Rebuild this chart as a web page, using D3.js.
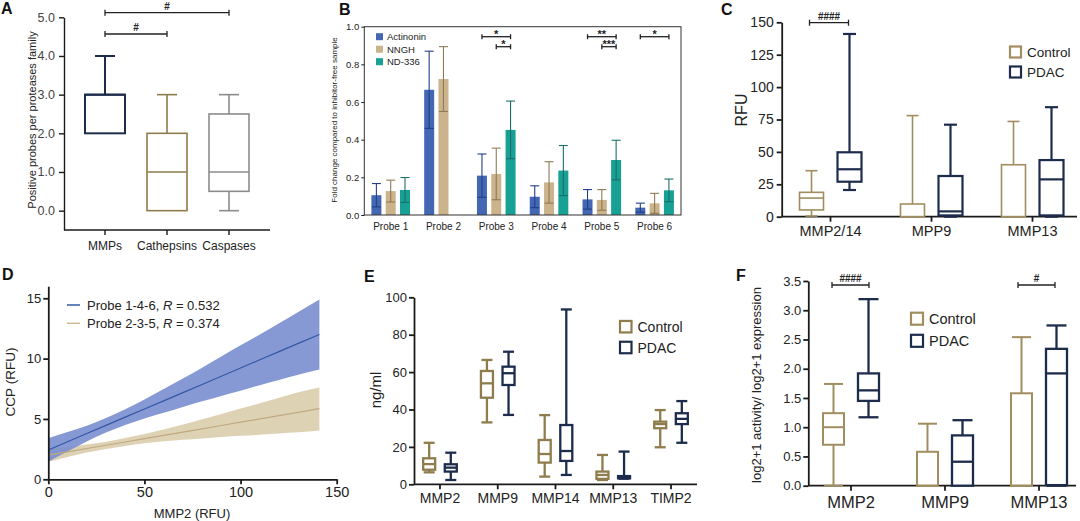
<!DOCTYPE html>
<html><head><meta charset="utf-8">
<script src="https://cdn.jsdelivr.net/npm/d3@7"></script>
<style>
body{margin:0;background:#fff}
svg{display:block;font-family:"Liberation Sans",Arial,sans-serif}
</style></head><body>
<svg id="c" width="1080" height="521"></svg>
<script>
// ---------- DATA ----------
// Panel A: [min, q1, median, q3, max]
const A_cats = ["MMPs", "Cathepsins", "Caspases"];
const A_stats = [[2, 2, 3, 3, 4], [0, 0, 1, 2, 3], [0, 0.5, 1, 2.5, 3]];
const A_yTicks = [0, 1, 2, 3, 4, 5];

// Panel B
const B_probes = ["Probe 1", "Probe 2", "Probe 3", "Probe 4", "Probe 5", "Probe 6"];
const B_series = ["Actinonin", "NNGH", "ND-336"];
const B_actinonin = [0.105, 0.665, 0.209, 0.097, 0.083, 0.039];
const B_actinoninErr = [0.062, 0.205, 0.115, 0.058, 0.052, 0.024];
const B_nngh = [0.127, 0.722, 0.218, 0.173, 0.080, 0.062];
const B_nnghErr = [0.058, 0.172, 0.137, 0.110, 0.055, 0.053];
const B_nd336 = [0.133, null, 0.452, 0.236, 0.292, 0.131];
const B_nd336Err = [0.066, null, 0.153, 0.133, 0.105, 0.060];
const B_yTicks = [0, 0.2, 0.4, 0.6, 0.8, 1.0];

// Panel C: [min, q1, median, q3, max]
const C_cats = ["MMP2/14", "MPP9", "MMP13"];
const C_control = [[0.5, 5.2, 14.4, 18.8, 35.5], [0, 0, 0, 9.8, 78], [0, 0, 0, 40.1, 73.5]];
const C_pdac = [[20.6, 27, 36.6, 49.7, 141], [0, 1, 4.1, 31.4, 71], [0, 1, 28.8, 43.7, 84.5]];
const C_yTicks = [0, 25, 50, 75, 100, 125, 150];

// Panel D: regression fits with confidence bands
const D_x = [0, 10, 20, 30, 40, 50, 60, 70, 80, 90, 100, 110, 120, 130, 141];
const D_blueFit = [2.43, 3.11, 3.79, 4.47, 5.15, 5.83, 6.50, 7.18, 7.86, 8.54, 9.22, 9.90, 10.58, 11.26, 12.0];
const D_blueHi = [3.40, 3.91, 4.44, 5.07, 5.80, 6.62, 7.48, 8.36, 9.25, 10.17, 11.10, 12.0, 12.93, 13.86, 14.9];
const D_blueLo = [1.46, 2.31, 3.14, 3.87, 4.50, 5.04, 5.52, 6.00, 6.47, 6.91, 7.34, 7.80, 8.23, 8.66, 9.1];
const D_tanFit = [2.0, 2.27, 2.55, 2.82, 3.09, 3.37, 3.64, 3.91, 4.18, 4.46, 4.73, 5.0, 5.28, 5.55, 5.85];
const D_tanHi = [2.55, 2.69, 2.88, 3.12, 3.42, 3.76, 4.13, 4.54, 4.97, 5.42, 5.86, 6.30, 6.76, 7.21, 7.6];
const D_tanLo = [1.45, 1.85, 2.22, 2.52, 2.76, 2.98, 3.15, 3.28, 3.39, 3.50, 3.60, 3.70, 3.80, 3.89, 4.05];
const D_xTicks = [0, 50, 100, 150];
const D_yTicks = [0, 5, 10, 15];
const D_legend = [["Probe 1-4-6, ", "0.532"], ["Probe 2-3-5, ", "0.374"]];

// Panel E: [min, q1, median, q3, max]
const E_cats = ["MMP2", "MMP9", "MMP14", "MMP13", "TIMP2"];
const E_control = [[6.4, 7.8, 10.8, 13.9, 22.2], [33.1, 46.3, 54, 60.6, 66.5], [4.1, 11.6, 16.2, 23.7, 37], [2.3, 2.9, 5, 6.8, 15.7], [19.8, 30, 32.2, 33.5, 39.7]];
const E_pdac = [[2.3, 6.8, 8.9, 10.7, 16.9], [37.1, 53.1, 59.4, 62.9, 70.9], [5, 12.5, 17.8, 31.7, 93.5], [3, 3.2, 3.8, 4.4, 17.5], [22.2, 32.2, 35, 38, 44.5]];
const E_yTicks = [0, 20, 40, 60, 80, 100];

// Panel F: [min, q1, median, q3, max]
const F_cats = ["MMP2", "MMP9", "MMP13"];
const F_control = [[0, 0.70, 1.0, 1.24, 1.74], [0, 0, 0, 0.58, 1.06], [0, 0, 0, 1.58, 2.54]];
const F_pdac = [[1.17, 1.45, 1.63, 1.92, 3.19], [0, 0, 0.41, 0.86, 1.12], [0, 0.01, 1.92, 2.34, 2.74]];
const F_yTicks = [0, 0.5, 1.0, 1.5, 2.0, 2.5, 3.0, 3.5];

const groups = ["Control", "PDAC"];

// ---------- STYLE ----------
const NAVY = "#1d2c4c", TAN = "#a18e60", OLIVE = "#8e7c4c", GRAY = "#8c8c8c";
const B_colors = ["#4467b4", "#cbb38b", "#17a094"];
const B_errColors = ["#213f8a", "#8f7a55", "#1c6f69"];
const AX = "#1a1a1a";
const FONT = "'Liberation Sans', Arial, sans-serif";

const svg = d3.select("#c");
svg.append("rect").attr("width", 1080).attr("height", 521).attr("fill", "#fff");

function styleAxis(sel, fs, sw) {
  sel.selectAll("path.domain").attr("stroke", AX).attr("stroke-width", sw);
  sel.selectAll(".tick line").attr("stroke", AX).attr("stroke-width", sw);
  sel.selectAll("text").attr("font-size", fs).attr("fill", "#222").attr("font-family", FONT);
}
function line(g, x1, y1, x2, y2, color, sw) {
  return g.append("line").attr("x1", x1).attr("y1", y1).attr("x2", x2).attr("y2", y2)
    .attr("stroke", color).attr("stroke-width", sw);
}
function box(g, cx, w, capW, s, y, color, sw) {
  const [mn, q1, md, q3, mx] = s;
  if (mx > q3) {
    line(g, cx, y(q3), cx, y(mx), color, sw);
    line(g, cx - capW / 2, y(mx), cx + capW / 2, y(mx), color, sw);
  }
  if (mn < q1) {
    line(g, cx, y(q1), cx, y(mn), color, sw);
    line(g, cx - capW / 2, y(mn), cx + capW / 2, y(mn), color, sw);
  }
  g.append("rect").attr("x", cx - w / 2).attr("y", y(q3)).attr("width", w)
    .attr("height", Math.max(0, y(q1) - y(q3))).attr("fill", "#fff")
    .attr("stroke", color).attr("stroke-width", sw);
  line(g, cx - w / 2, y(md), cx + w / 2, y(md), color, sw);
}
function sig(g, x1, x2, yy, label, fs, capH, dy) {
  line(g, x1, yy, x2, yy, "#222", 1.3);
  line(g, x1, yy - capH, x1, yy + capH, "#222", 1.3);
  line(g, x2, yy - capH, x2, yy + capH, "#222", 1.3);
  g.append("text").attr("x", (x1 + x2) / 2).attr("y", yy - (dy == null ? 3 : dy)).attr("text-anchor", "middle")
    .attr("font-size", fs).attr("font-weight", "bold").attr("fill", "#222").text(label);
}
function panelLabel(t, x, y) {
  svg.append("text").attr("x", x).attr("y", y).attr("font-size", 16).attr("font-weight", "bold")
    .attr("fill", "#111").text(t);
}
function catAxis(g, scale, yPos, xStart, xEnd, fs, sw, labelDy) {
  line(g, xStart, yPos, xEnd, yPos, AX, sw);
  scale.domain().forEach(c => {
    const cx = scale(c) + (scale.bandwidth ? scale.bandwidth() / 2 : 0);
    line(g, cx, yPos, cx, yPos + 5, AX, sw);
    g.append("text").attr("x", cx).attr("y", yPos + labelDy).attr("text-anchor", "middle")
      .attr("font-size", fs).attr("fill", "#222").text(c);
  });
}
function legendBoxes(g, x, y0, dy, sq, fs, colors) {
  groups.forEach((name, i) => {
    const yy = y0 + i * dy;
    g.append("rect").attr("x", x).attr("y", yy - sq / 2).attr("width", sq).attr("height", sq)
      .attr("fill", "#fff").attr("stroke", colors[i]).attr("stroke-width", 2.2);
    g.append("text").attr("x", x + sq + 6).attr("y", yy).attr("dy", "0.36em")
      .attr("font-size", fs).attr("fill", "#222").text(name);
  });
}

// ---------- PANEL A ----------
{
  const g = svg.append("g");
  const y = d3.scaleLinear().domain([-0.5, 5]).range([230, 17.3]);
  const x = d3.scalePoint().domain(A_cats).range([105, 229]);
  const ax = g.append("g").attr("transform", "translate(64,0)")
    .call(d3.axisLeft(y).tickValues(A_yTicks).tickSize(5).tickSizeOuter(0).tickPadding(4));
  styleAxis(ax, 12.5, 1.4);
  ax.selectAll("text").attr("fill", "#444");
  catAxis(g, x, 230, 64, 270, 12, 1.4, 20);
  const cols = [NAVY, OLIVE, GRAY];
  A_cats.forEach((c, i) => box(g, x(c), 40, 20, A_stats[i], y, cols[i], i === 0 ? 2 : 1.6));
  g.append("text").attr("transform", "translate(36,120) rotate(-90)").attr("text-anchor", "middle")
    .attr("font-size", 11).attr("fill", "#222").text("Positive probes per proteases family");
  sig(g, x("MMPs"), x("Caspases"), 12.7, "#", 10, 3);
  sig(g, x("MMPs"), x("Cathepsins"), 34, "#", 10, 3);
  panelLabel("A", 1, 14);
}

// ---------- PANEL B ----------
{
  const g = svg.append("g");
  const y = d3.scaleLinear().domain([0, 1]).range([215, 26.7]);
  const x = d3.scaleBand().domain(B_probes).range([364.3, 681]);
  const xs = d3.scalePoint().domain(B_series).range([-14.3, 14.3]);
  const vals = [B_actinonin, B_nngh, B_nd336];
  const errs = [B_actinoninErr, B_nnghErr, B_nd336Err];
  B_probes.forEach((p, i) => {
    const cx0 = x(p) + x.bandwidth() / 2;
    B_series.forEach((s, k) => {
      const v = vals[k][i];
      if (v == null) return;
      const cx = cx0 + xs(s);
      g.append("rect").attr("x", cx - 5).attr("y", y(v)).attr("width", 10)
        .attr("height", y(0) - y(v)).attr("fill", B_colors[k]);
      const e = errs[k][i];
      line(g, cx, y(v - e), cx, y(v + e), B_errColors[k], 1.1);
      line(g, cx - 4.5, y(v + e), cx + 4.5, y(v + e), B_errColors[k], 1.1);
      line(g, cx - 4.5, y(v - e), cx + 4.5, y(v - e), B_errColors[k], 1.1);
    });
    g.append("text").attr("x", cx0).attr("y", 230).attr("text-anchor", "middle")
      .attr("font-size", 10).attr("fill", "#222").text(p);
  });
  g.append("rect").attr("x", 364.3).attr("y", 26.7).attr("width", 681 - 364.3).attr("height", 215 - 26.7)
    .attr("fill", "none").attr("stroke", "#333").attr("stroke-width", 1);
  const ax = g.append("g").attr("transform", "translate(364.3,0)")
    .call(d3.axisLeft(y).tickValues(B_yTicks).tickFormat(d3.format(".1f")).tickSize(3).tickSizeOuter(0).tickPadding(2));
  ax.select("path.domain").remove();
  styleAxis(ax, 9.5, 1);
  g.append("text").attr("transform", "translate(337,120) rotate(-90)").attr("text-anchor", "middle")
    .attr("font-size", 8).attr("fill", "#222").text("Fold change compared to inhibitor-free sample");
  B_series.forEach((s, k) => {
    const yy = 36.7 + k * 12.5;
    g.append("rect").attr("x", 376).attr("y", yy - 3.5).attr("width", 7).attr("height", 7).attr("fill", B_colors[k]);
    g.append("text").attr("x", 387).attr("y", yy).attr("dy", "0.35em").attr("font-size", 9.5)
      .attr("fill", "#222").text(s);
  });
  const px = (p, k) => x(p) + x.bandwidth() / 2 + xs(B_series[k]);
  sig(g, px("Probe 3", 0), px("Probe 3", 2), 36.7, "*", 11, 2.5, -1);
  sig(g, px("Probe 3", 1), px("Probe 3", 2), 46.7, "*", 11, 2.5, -1);
  sig(g, px("Probe 5", 0), px("Probe 5", 2), 36.7, "**", 11, 2.5, -1);
  sig(g, px("Probe 5", 1), px("Probe 5", 2), 46.7, "***", 11, 2.5, -1);
  sig(g, px("Probe 6", 0), px("Probe 6", 2), 36.7, "*", 11, 2.5, -1);
  panelLabel("B", 339, 15);
}

// ---------- PANEL C ----------
{
  const g = svg.append("g");
  const y = d3.scaleLinear().domain([0, 150]).range([216.7, 22.3]);
  const x = d3.scaleBand().domain(C_cats).range([780, 1083]);
  const ax = g.append("g").attr("transform", "translate(781.7,0)")
    .call(d3.axisLeft(y).tickValues(C_yTicks).tickSize(5).tickSizeOuter(0).tickPadding(3));
  styleAxis(ax, 14, 1.8);
  catAxis(g, x, 216.7, 781.7, 1077, 14.5, 1.8, 19);
  C_cats.forEach((c, i) => {
    const cx = x(c) + x.bandwidth() / 2;
    box(g, cx - 19, 24, 12, C_control[i], y, TAN, 1.6);
    box(g, cx + 19, 24, 13, C_pdac[i], y, NAVY, 2.2);
  });
  g.append("text").attr("transform", "translate(747,110) rotate(-90)").attr("text-anchor", "middle")
    .attr("font-size", 16).attr("fill", "#222").text("RFU");
  legendBoxes(g, 1010, 52, 20, 11, 13.5, [TAN, NAVY]);
  const c0 = x("MMP2/14") + x.bandwidth() / 2;
  sig(g, c0 - 21, c0 + 18, 22.7, "####", 10, 3);
  panelLabel("C", 721, 15);
}

// ---------- PANEL D ----------
{
  const g = svg.append("g");
  const x = d3.scaleLinear().domain([0, 150]).range([48.3, 336.7]);
  const y = d3.scaleLinear().domain([0, 16]).range([479.3, 286.2]);
  const idx = D_x.map((_, i) => i);
  const area = (lo, hi) => d3.area().x(i => x(D_x[i])).y0(i => y(lo[i])).y1(i => y(hi[i])).curve(d3.curveMonotoneX)(idx);
  const ln = (f) => d3.line().x(i => x(D_x[i])).y(i => y(f[i]))(idx);
  g.append("path").attr("d", area(D_tanLo, D_tanHi)).attr("fill", "#d8caa8").attr("opacity", 0.85);
  g.append("path").attr("d", area(D_blueLo, D_blueHi)).attr("fill", "#7a8ecf").attr("opacity", 0.9);
  g.append("path").attr("d", ln(D_tanFit)).attr("fill", "none").attr("stroke", "#c0a980").attr("stroke-width", 1.2);
  g.append("path").attr("d", ln(D_blueFit)).attr("fill", "none").attr("stroke", "#3358a6").attr("stroke-width", 1.2);
  const ay = g.append("g").attr("transform", "translate(48.3,0)")
    .call(d3.axisLeft(y).tickValues(D_yTicks).tickSize(5).tickSizeOuter(0).tickPadding(2));
  styleAxis(ay, 13, 1.8);
  const axx = g.append("g").attr("transform", "translate(0,479.3)")
    .call(d3.axisBottom(x).tickValues(D_xTicks).tickSize(5).tickSizeOuter(0).tickPadding(2));
  styleAxis(axx, 14.5, 1.8);
  g.append("text").attr("x", 192).attr("y", 518).attr("text-anchor", "middle")
    .attr("font-size", 13).attr("fill", "#222").text("MMP2 (RFU)");
  g.append("text").attr("transform", "translate(15,382) rotate(-90)").attr("text-anchor", "middle")
    .attr("font-size", 13.5).attr("fill", "#222").text("CCP (RFU)");
  const lc = ["#3358a6", "#cdb994"];
  D_legend.forEach((l, i) => {
    const yy = 305 + i * 18.3;
    line(g, 67, yy, 80, yy, lc[i], 1.5);
    const t = g.append("text").attr("x", 87).attr("y", yy).attr("dy", "0.36em").attr("font-size", 13).attr("fill", "#222");
    t.append("tspan").text(l[0]);
    t.append("tspan").attr("font-style", "italic").text("R");
    t.append("tspan").text(" = " + l[1]);
  });
  panelLabel("D", 2, 280);
}

// ---------- PANEL E ----------
{
  const g = svg.append("g");
  const y = d3.scaleLinear().domain([0, 100]).range([484.3, 297.3]);
  const x = d3.scaleBand().domain(E_cats).range([411.1, 699.9]);
  const ax = g.append("g").attr("transform", "translate(414,0)")
    .call(d3.axisLeft(y).tickValues(E_yTicks).tickSize(5).tickSizeOuter(0).tickPadding(2));
  styleAxis(ax, 13, 1.8);
  catAxis(g, x, 484.3, 414, 697, 14, 1.8, 19);
  E_cats.forEach((c, i) => {
    const cx = x(c) + x.bandwidth() / 2;
    box(g, cx - 10.8, 12, 11, E_control[i], y, OLIVE, 2.3);
    box(g, cx + 10.8, 12, 11, E_pdac[i], y, NAVY, 2.3);
  });
  g.append("text").attr("transform", "translate(381,390) rotate(-90)").attr("text-anchor", "middle")
    .attr("font-size", 15).attr("fill", "#222").text("ng/ml");
  legendBoxes(g, 620, 326.7, 20.8, 11.5, 14, [OLIVE, NAVY]);
  panelLabel("E", 364, 282);
}

// ---------- PANEL F ----------
{
  const g = svg.append("g");
  const y = d3.scaleLinear().domain([0, 3.5]).range([485.7, 281]);
  const x = d3.scaleBand().domain(F_cats).range([804, 1086]);
  const ax = g.append("g").attr("transform", "translate(808.3,0)")
    .call(d3.axisLeft(y).tickValues(F_yTicks).tickFormat(d3.format(".1f")).tickSize(5).tickSizeOuter(0).tickPadding(2));
  styleAxis(ax, 13, 1.8);
  catAxis(g, x, 485.7, 808.3, 1076, 16.5, 1.8, 22);
  F_cats.forEach((c, i) => {
    const cx = x(c) + x.bandwidth() / 2;
    box(g, cx - 17.5, 21, 19, F_control[i], y, TAN, 2);
    box(g, cx + 17.5, 21, 20, F_pdac[i], y, NAVY, 2.3);
  });
  g.append("text").attr("transform", "translate(761,385) rotate(-90)").attr("text-anchor", "middle")
    .attr("font-size", 13).attr("fill", "#222").text("log2+1 activity/ log2+1 expression");
  legendBoxes(g, 911, 318.7, 22.1, 12, 14.5, [TAN, NAVY]);
  const c0 = x("MMP2") + x.bandwidth() / 2, c2 = x("MMP13") + x.bandwidth() / 2;
  sig(g, c0 - 19, c0 + 18, 285, "####", 10, 3);
  sig(g, c2 - 21, c2 + 16, 285, "#", 10, 3);
  panelLabel("F", 736, 281);
}
</script></body></html>
